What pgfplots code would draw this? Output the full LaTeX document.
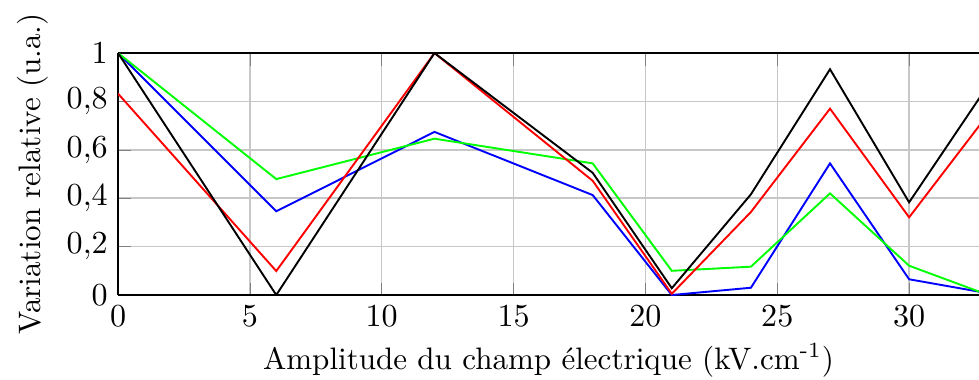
\documentclass[border=0pt]{standalone}
\usepackage{pgfplots}
\pgfplotsset{compat=1.18}
\begin{document}
\begin{tikzpicture}
\path[use as bounding box] (-40.3pt,-29pt) rectangle (293.9pt,100.7pt);
\begin{axis}[
  at={(0,0)}, anchor=south west,
  scale only axis,
  width=293.9pt, height=82.6pt,
  xmin=0, xmax=32.65, ymin=0, ymax=1,
  xtick={0,5,10,15,20,25,30},
  ytick={0,0.2,0.4,0.6,0.8,1},
  /pgf/number format/use comma,
  axis x line*=box,
  axis y line*=left,
  y axis line style={-},
  x axis line style={-},
  tick align=inside,
  grid=major,
  major grid style={color=black!22, line width=0.5pt},
  tick label style={font=\fontsize{10.8}{13}\selectfont},
  label style={font=\fontsize{10.6}{13}\selectfont},
  xlabel={Amplitude du champ électrique (kV.cm\textsuperscript{-1})},
  ylabel={Variation relative (u.a.)},
  xlabel style={yshift=1pt},
  ylabel style={yshift=-0.5pt},
  every axis plot/.append style={line width=0.65pt},
  clip=true,
]
\addplot[blue] coordinates {(0,1) (6,0.346) (12,0.674) (18,0.413) (21,0.0) (24,0.030) (27,0.544) (30,0.065) (33,0.007)};
\addplot[green] coordinates {(0,1) (6,0.479) (12,0.646) (18,0.544) (21,0.100) (24,0.117) (27,0.420) (30,0.121) (33,0.0)};
\addplot[red] coordinates {(0,0.832) (6,0.099) (12,1) (18,0.472) (21,0.005) (24,0.343) (27,0.770) (30,0.321) (33,0.748)};
\addplot[black] coordinates {(0,1) (6,0) (12,1) (18,0.505) (21,0.028) (24,0.416) (27,0.933) (30,0.383) (33,0.868)};
\end{axis}
\end{tikzpicture}
\end{document}
